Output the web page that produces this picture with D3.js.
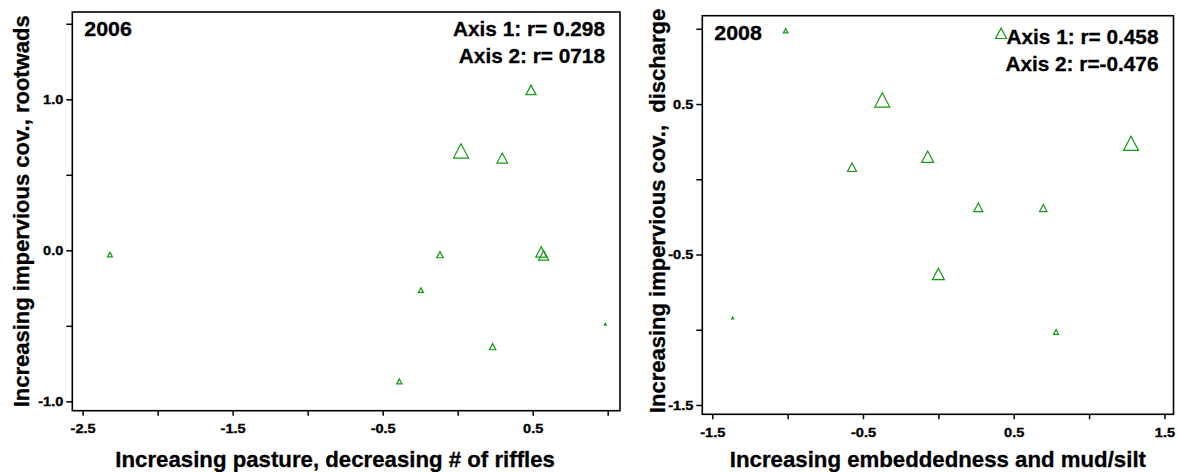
<!DOCTYPE html>
<html>
<head>
<meta charset="utf-8">
<script src="https://cdnjs.cloudflare.com/ajax/libs/d3/7.8.5/d3.min.js"></script>
<style>
  body { margin: 0; background: #fff; }
  text { font-family: "Liberation Sans", Arial, sans-serif; font-weight: bold; fill: #000; }
</style>
</head>
<body>
<svg width="1178" height="472"></svg>
<script>
// ordination scores, plus relative site weight (triangle size)
var x2006 = [-2.318, 0.489, 0.022, 0.297, -0.118, -0.245, 0.557, 0.573, 0.233, -0.389, 0.984];
var y2006 = [-0.028, 1.062, 0.658, 0.611, -0.029, -0.263, -0.011, -0.033, -0.638, -0.868, -0.49];
var w2006 = [0.33, 0.67, 1.0, 0.7, 0.43, 0.33, 0.73, 0.67, 0.43, 0.35, 0.13];

var x2008 = [-1.013, 0.416, -0.372, 1.278, -0.573, -0.071, 0.265, 0.696, 0.0, -1.365, 0.781];
var y2008 = [0.987, 0.970, 0.527, 0.239, 0.080, 0.150, -0.186, -0.191, -0.629, -0.922, -1.015];
var w2008 = [0.31, 0.73, 1.0, 1.0, 0.6, 0.8, 0.6, 0.5, 0.8, 0.13, 0.33];

var xTicks2006 = [-2.5, -2.0, -1.5, -1.0, -0.5, 0.0, 0.5, 1.0];
var xLabels2006 = [-2.5, -1.5, -0.5, 0.5];
var yTicks2006 = [-1.0, -0.5, 0.0, 0.5, 1.0, 1.5];
var yLabels2006 = [-1.0, 0.0, 1.0];

var xTicks2008 = [-1.5, -1.0, -0.5, 0.0, 0.5, 1.0, 1.5];
var xLabels2008 = [-1.5, -0.5, 0.5, 1.5];
var yTicks2008 = [-1.5, -1.0, -0.5, 0.0, 0.5, 1.0];
var yLabels2008 = [-1.5, -0.5, 0.5];

var svg = d3.select("svg");
var green = "#139a13";

var size = d3.scaleLinear().domain([0, 1]).range([0, 15]);

function tri(w) {
  var h = w * 0.95;
  return "M0," + (-h / 2) + "L" + (w / 2) + "," + (h / 2) + "L" + (-w / 2) + "," + (h / 2) + "Z";
}

function stretchText(g, str, x, y, fs, sx, anchor) {
  return g.append("text")
    .attr("transform", "translate(" + x + "," + y + ") scale(" + sx + ",1)")
    .attr("font-size", fs)
    .attr("text-anchor", anchor || "start")
    .attr("stroke", "#000").attr("stroke-width", 0.3)
    .text(str);
}

function panel(cfg) {
  var x = d3.scaleLinear().domain(cfg.xDomain).range([cfg.left, cfg.right]);
  var y = d3.scaleLinear().domain(cfg.yDomain).range([cfg.bottom, cfg.top]);
  var g = svg.append("g");

  var fmt = function(labels) {
    return function(d) { return labels.indexOf(d) >= 0 ? d.toFixed(1) : ""; };
  };

  var xAxis = g.append("g")
    .attr("transform", "translate(0," + cfg.bottom + ")")
    .call(d3.axisBottom(x).tickValues(cfg.xTicks).tickFormat(fmt(cfg.xLabels)).tickSize(5).tickSizeOuter(0));
  xAxis.selectAll("text")
    .attr("font-size", 13)
    .attr("y", 13)
    .attr("stroke", "#000").attr("stroke-width", 0.35)
    .attr("transform", "scale(1.12,1)");

  var yAxis = g.append("g")
    .attr("transform", "translate(" + cfg.left + ",0)")
    .call(d3.axisLeft(y).tickValues(cfg.yTicks).tickFormat(fmt(cfg.yLabels)).tickSize(6).tickSizeOuter(0));
  yAxis.selectAll("text")
    .attr("font-size", 13)
    .attr("x", -8)
    .attr("stroke", "#000").attr("stroke-width", 0.35)
    .attr("transform", "scale(1.12,1)");

  g.selectAll(".domain").remove();
  g.selectAll(".tick line").attr("stroke", "#000").attr("stroke-width", 1.5);

  g.append("rect")
    .attr("x", cfg.left).attr("y", cfg.top)
    .attr("width", cfg.right - cfg.left).attr("height", cfg.bottom - cfg.top)
    .attr("fill", "none").attr("stroke", "#000").attr("stroke-width", 1.6);

  g.selectAll("path.pt")
    .data(cfg.xs.map(function(d, i) { return {x: d, y: cfg.ys[i], w: cfg.ws[i]}; }))
    .enter().append("path")
      .attr("class", "pt")
      .attr("transform", function(d) { return "translate(" + x(d.x) + "," + y(d.y) + ")"; })
      .attr("d", function(d) { return tri(size(d.w)); })
      .attr("fill", "none")
      .attr("stroke", green)
      .attr("stroke-width", 1.2);

  stretchText(g, cfg.year, cfg.left + 12, cfg.top + 24, 20, 1.07);
  stretchText(g, cfg.r1, cfg.right - 15, cfg.top + cfg.rOff, 20, 1.04, "end");
  stretchText(g, cfg.r2, cfg.right - 15, cfg.top + cfg.rOff + 27, 20, 1.04, "end");

  stretchText(g, cfg.xTitle, (cfg.left + cfg.right) / 2 + cfg.xTitleShift, 467, 22, 1.01, "middle");

  g.append("text")
    .attr("transform", "translate(" + cfg.yTitleX + "," + ((cfg.top + cfg.bottom) / 2 + cfg.yTitleShift) + ") rotate(-90)")
    .attr("font-size", 22)
    .attr("text-anchor", "middle")
    .attr("stroke", "#000").attr("stroke-width", 0.3)
    .style("white-space", "pre")
    .text(cfg.yTitle);
}

panel({
  left: 72.3, right: 620, top: 12, bottom: 410.7,
  xDomain: [-2.569, 1.082], yDomain: [-1.062, 1.578],
  xTicks: xTicks2006, xLabels: xLabels2006, yTicks: yTicks2006, yLabels: yLabels2006,
  xs: x2006, ys: y2006, ws: w2006,
  year: "2006", r1: "Axis 1: r= 0.298", r2: "Axis 2: r= 0718", rOff: 24,
  xTitle: "Increasing pasture, decreasing # of riffles", xTitleShift: -11,
  yTitle: "Increasing impervious cov., rootwads", yTitleX: 29, yTitleShift: 0
});

panel({
  left: 702.3, right: 1173.5, top: 15.7, bottom: 414.3,
  xDomain: [-1.566, 1.560], yDomain: [-1.562, 1.087],
  xTicks: xTicks2008, xLabels: xLabels2008, yTicks: yTicks2008, yLabels: yLabels2008,
  xs: x2008, ys: y2008, ws: w2008,
  year: "2008", r1: "Axis 1: r= 0.458", r2: "Axis 2: r=-0.476", rOff: 28,
  xTitle: "Increasing embeddedness and mud/silt", xTitleShift: 0,
  yTitle: "Increasing impervious cov.,  discharge", yTitleX: 665, yTitleShift: -4
});
</script>
</body>
</html>
